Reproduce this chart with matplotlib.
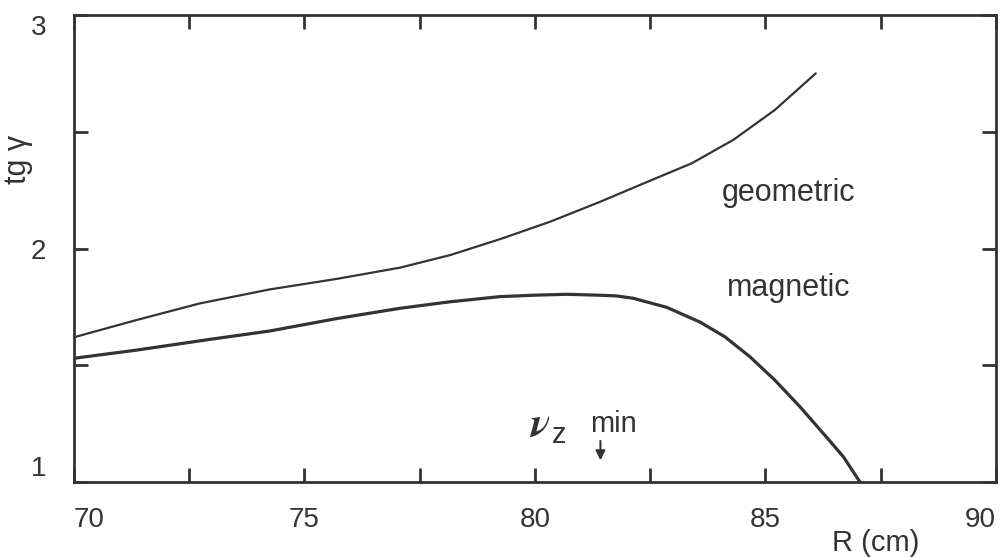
import matplotlib.pyplot as plt
from matplotlib.ticker import MultipleLocator

# curves
r_geo = [70.0, 71.36, 72.73, 74.25, 75.7, 77.07, 78.16, 79.24, 80.33, 81.41,
         82.49, 83.4, 84.3, 85.2, 86.09]
tg_geo = [1.62, 1.694, 1.765, 1.825, 1.87, 1.918, 1.972, 2.04, 2.115, 2.20,
          2.29, 2.365, 2.465, 2.593, 2.75]

r_mag = [70.0, 71.36, 72.95, 74.25, 75.7, 77.07, 78.16, 79.24, 79.96, 80.69,
         81.41, 81.77, 82.13, 82.86, 83.58, 84.12, 84.66, 85.2, 85.75, 86.29,
         86.69, 87.05]
tg_mag = [1.53, 1.565, 1.611, 1.647, 1.70, 1.744, 1.772, 1.794, 1.80, 1.804,
          1.80, 1.797, 1.787, 1.748, 1.685, 1.622, 1.537, 1.437, 1.322, 1.20,
          1.108, 1.0]

x_ticks = [70, 75, 80, 85, 90]
y_ticks = [1, 2, 3]
nu_min_r = 81.42
ink = "#333333"

plt.rcParams["font.family"] = ["Liberation Sans", "DejaVu Sans"]
plt.rcParams["mathtext.fontset"] = "stix"

fig = plt.figure(figsize=(10.04, 5.57), dpi=100)
ax = fig.add_axes([0.0737, 0.1346, 0.9183, 0.8384])

ax.plot(r_geo, tg_geo, color=ink, lw=1.6, solid_capstyle="round")
ax.plot(r_mag, tg_mag, color=ink, lw=2.3, solid_capstyle="round")

ax.set_xlim(70, 90)
ax.set_ylim(1, 3)
ax.set_xticks(x_ticks, [str(v) for v in x_ticks])
ax.set_yticks(y_ticks, [str(v) for v in y_ticks])
ax.xaxis.set_minor_locator(MultipleLocator(2.5))
ax.yaxis.set_minor_locator(MultipleLocator(0.5))
ax.tick_params(which="both", direction="in", top=True, right=True,
               length=10, width=2, color=ink)
ax.tick_params(axis="x", labelsize=20, pad=18, labelcolor=ink)
ax.tick_params(axis="y", labelsize=20, pad=20, labelcolor=ink)
for s in ax.spines.values():
    s.set_linewidth(2)
    s.set_color(ink)

xt = ax.xaxis.get_major_ticks()
xt[0].label1.set_ha("left")
xt[-1].label1.set_ha("right")
yt = ax.yaxis.get_major_ticks()
yt[0].label1.set_va("bottom")
yt[-1].label1.set_va("top")

ax.set_ylabel("tg γ", fontsize=22, color=ink)
ax.yaxis.set_label_coords(-0.044, 0.69)
fig.text(876 / 1004, 1 - 543 / 557, "R (cm)", fontsize=21, color=ink,
         ha="center", va="center")

ax.text(85.49, 2.238, "geometric", fontsize=22, color=ink, ha="center", va="center")
ax.text(85.5, 1.83, "magnetic", fontsize=22, color=ink, ha="center", va="center")

ax.text(80.13, 1.245, r"$\boldsymbol{\nu}$", fontsize=30, color=ink,
        ha="center", va="center")
ax.text(80.37, 1.20, "z", fontsize=21, color=ink, ha="left", va="center")
ax.text(81.7, 1.25, "min", fontsize=21, color=ink, ha="center", va="center")
ax.annotate("", xy=(nu_min_r, 1.081), xytext=(nu_min_r, 1.188),
            arrowprops=dict(arrowstyle="-|>", color=ink, lw=1.5,
                            mutation_scale=14))

fig.savefig("out.png", dpi=100)
